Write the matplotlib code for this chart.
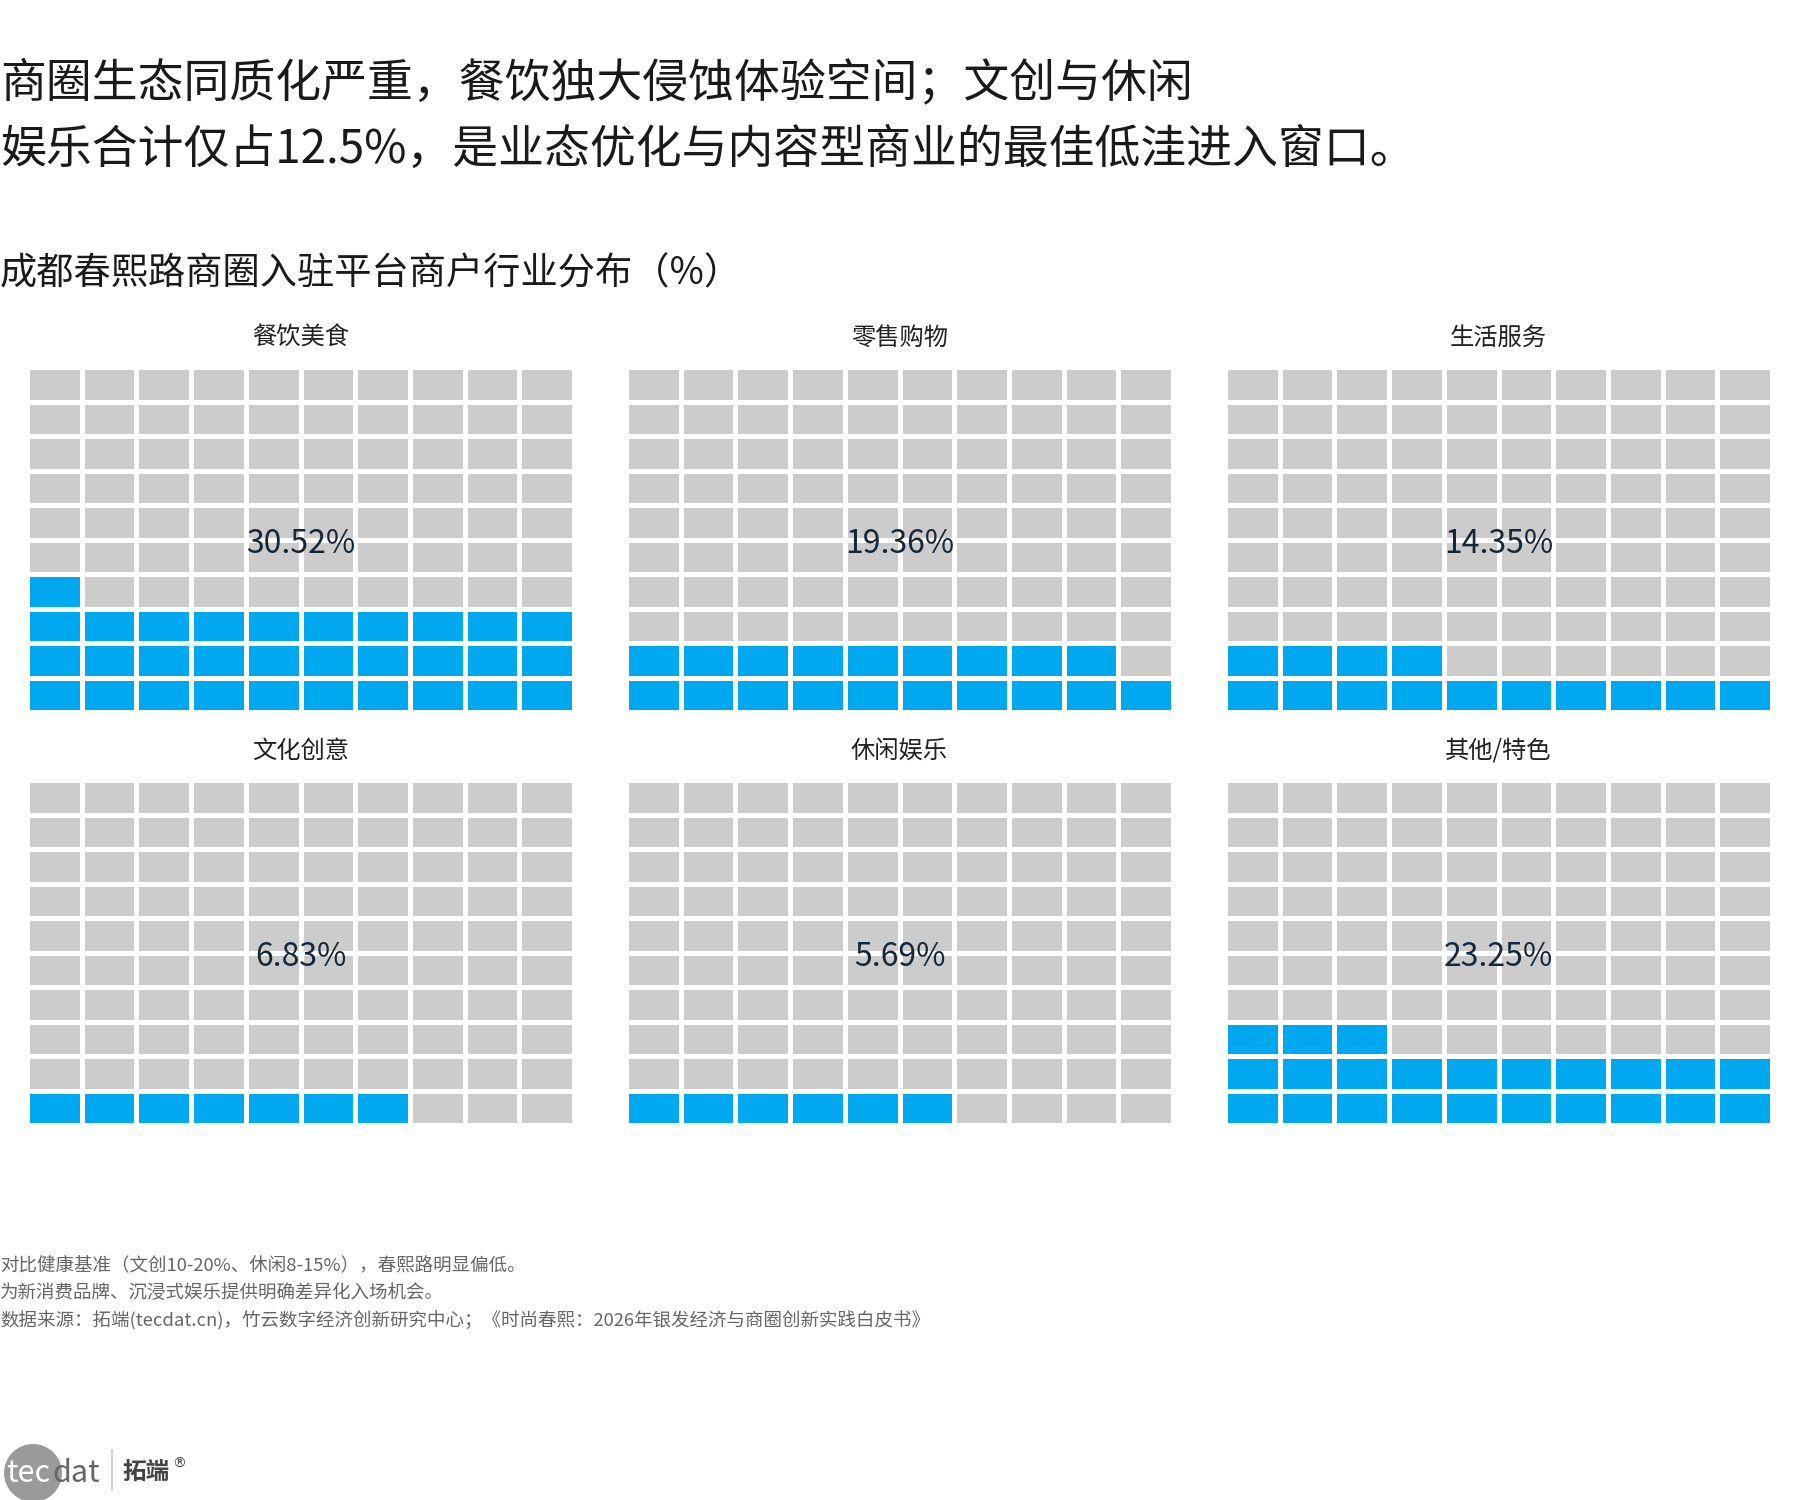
import matplotlib
matplotlib.use('Agg')
import matplotlib.pyplot as plt
from matplotlib.colors import ListedColormap
from matplotlib.patches import Circle
import numpy as np

plt.rcParams['font.family'] = ['Noto Sans CJK SC', 'DejaVu Sans']

categories = ['餐饮美食', '零售购物', '生活服务', '文化创意', '休闲娱乐', '其他/特色']
shares = [30.52, 19.36, 14.35, 6.83, 5.69, 23.25]
value_labels = ['30.52%', '19.36%', '14.35%', '6.83%', '5.69%', '23.25%']

title_lines = ['商圈生态同质化严重，餐饮独大侵蚀体验空间；文创与休闲',
               '娱乐合计仅占12.5%，是业态优化与内容型商业的最佳低洼进入窗口。']
subtitle = '成都春熙路商圈入驻平台商户行业分布（%）'
notes = ['对比健康基准（文创10-20%、休闲8-15%），春熙路明显偏低。',
         '为新消费品牌、沉浸式娱乐提供明确差异化入场机会。',
         '数据来源：拓端(tecdat.cn)，竹云数字经济创新研究中心；《时尚春熙：2026年银发经济与商圈创新实践白皮书》']

BLUE = '#00A8F0'
GREY = '#CCCCCC'
W, H = 1800, 1500

fig = plt.figure(figsize=(18, 15), dpi=100)
fig.patch.set_facecolor('white')

# headline + subtitle
fig.text(0, 1 - 83.5 / H, title_lines[0], fontsize=33, va='center', ha='left', color='#1a1a1a')
fig.text(0, 1 - 149.5 / H, title_lines[1], fontsize=33, va='center', ha='left', color='#1a1a1a')
fig.text(0, 1 - 274 / H, subtitle, fontsize=26.8, va='center', ha='left', color='#1a1a1a')

lefts = [27, 626, 1225]
tops = [367, 780]
pw, ph = 547, 345
cmap = ListedColormap([GREY, BLUE])

for k, (name, share, lab) in enumerate(zip(categories, shares, value_labels)):
    col, row = k % 3, k // 3
    x0, y0 = lefts[col], tops[row]
    ax = fig.add_axes([x0 / W, 1 - (y0 + ph) / H, pw / W, ph / H])
    n = int(round(share))
    grid = (np.arange(100) < n).astype(int).reshape(10, 10)
    ax.pcolormesh(np.arange(11), np.arange(11), grid, cmap=cmap, vmin=0, vmax=1,
                  edgecolors='white', linewidth=2.2)
    ax.set_xlim(0, 10)
    ax.set_ylim(0, 10)
    ax.axis('off')
    ax.text(5, 4.88, lab, ha='center', va='center', fontsize=23, color='#14283a')
    fig.text((x0 + pw / 2) / W, 1 - (y0 - 29) / H, name, ha='center', va='center',
             fontsize=17.5, color='#222222')

# footnotes
for i, t in enumerate(notes):
    fig.text(0, 1 - (1266 + 27.5 * i) / H, t, fontsize=13.3, va='center', ha='left', color='#666666')

# logo
logo = fig.add_axes([0, 0, 220 / W, 62 / H])
logo.set_xlim(0, 220)
logo.set_ylim(0, 62)
logo.axis('off')
logo.add_patch(Circle((33, 27), 29, color='#9a9a9a', lw=0))
logo.text(6, 27, 'tec', fontsize=22, color='white', va='center', ha='left')
logo.text(52, 27, 'dat', fontsize=22, color='#666666', va='center', ha='left')
logo.plot([112, 112], [10, 50], color='#cccccc', lw=1.2)
logo.text(122, 27, '拓端', fontsize=17, color='#444444', va='center', ha='left', fontweight='bold')
logo.text(172, 36, '®', fontsize=10, color='#444444', va='center', ha='left', family='DejaVu Sans')

fig.savefig('out.png', dpi=100, facecolor='white')
